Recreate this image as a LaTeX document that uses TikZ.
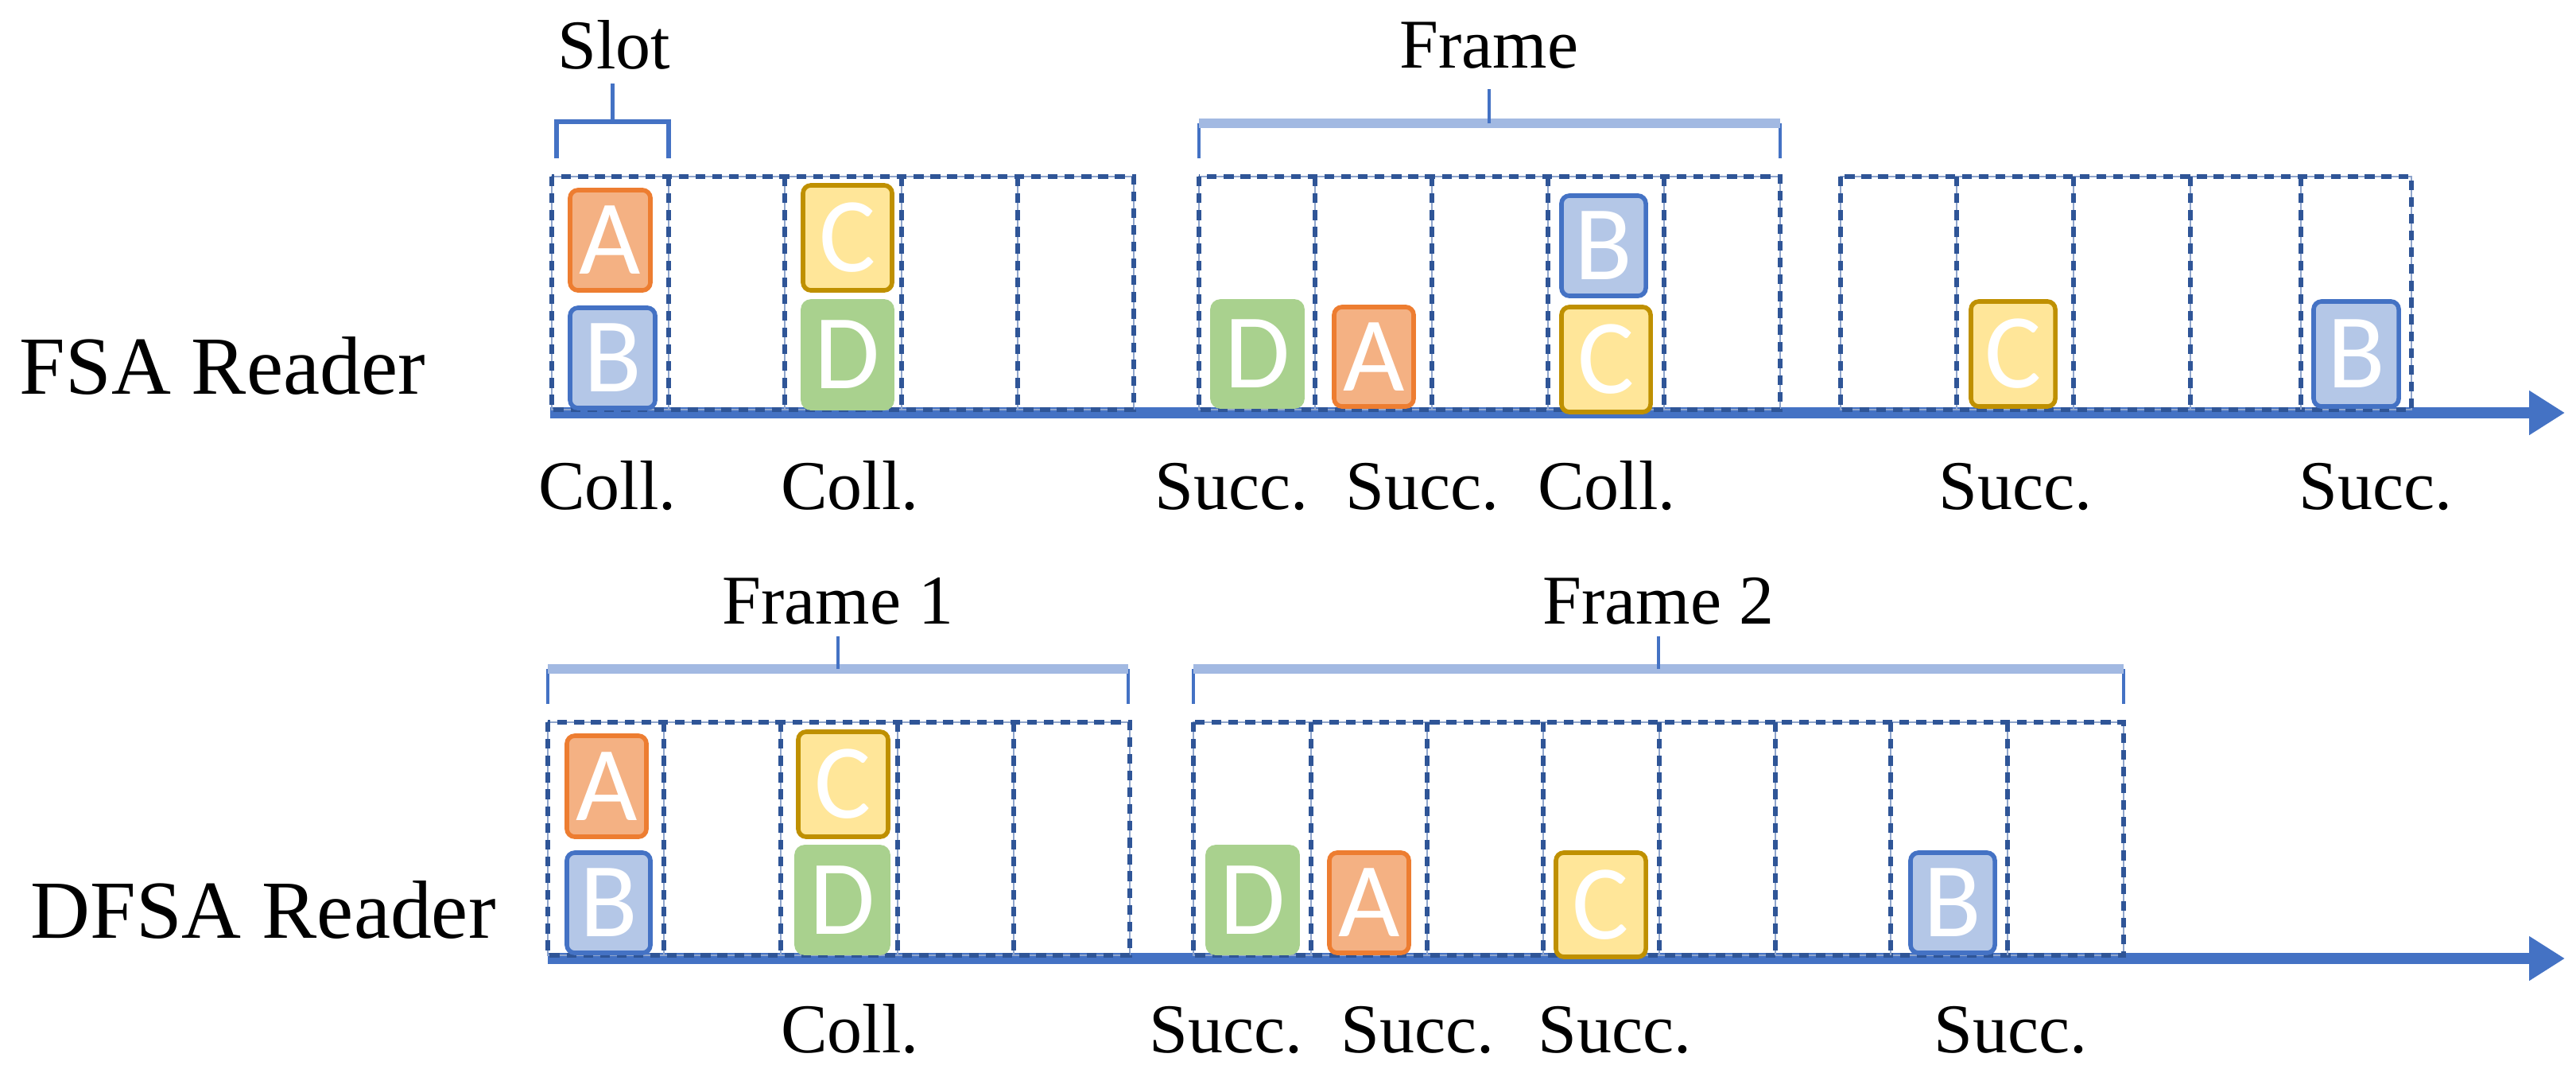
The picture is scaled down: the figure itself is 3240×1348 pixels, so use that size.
\documentclass[tikz,border=0pt]{standalone}
\usepackage{fontspec}
\usepackage{graphicx}
\setmainfont{Liberation Serif}
\newfontfamily\tokfont{Carlito}
\usetikzlibrary{arrows.meta}
\definecolor{axisblue}{HTML}{4472C4}
\definecolor{dashblue}{HTML}{2F5597}
\definecolor{gapblue}{HTML}{8FA5CC}
\definecolor{bracelight}{HTML}{A2B9E2}
\definecolor{aFill}{HTML}{F4B183}
\definecolor{aLine}{HTML}{ED7D31}
\definecolor{bFill}{HTML}{B4C7E7}
\definecolor{bLine}{HTML}{4472C4}
\definecolor{cFill}{HTML}{FFE699}
\definecolor{cLine}{HTML}{BF9000}
\definecolor{dFill}{HTML}{A9D18E}
\begin{document}
\begin{tikzpicture}[x=0.01cm,y=-0.01cm,
  tok/.style={rounded corners=0.1cm, line width=1.6pt, inner sep=0pt,
    font=\tokfont\fontsize{38}{38}\selectfont, text=white},
  tokA/.style={tok, fill=aFill, draw=aLine},
  tokB/.style={tok, fill=bFill, draw=bLine},
  tokC/.style={tok, fill=cFill, draw=cLine},
  tokD/.style={tok, fill=dFill, draw=dFill},
  lbl/.style={font=\fontsize{25}{25}\selectfont, anchor=base, inner sep=0pt},
  reader/.style={font=\fontsize{29.5}{30}\selectfont, anchor=base west, inner sep=0pt},
  slotline/.style={dashblue, line width=1.6pt, dash pattern=on 3.5pt off 2.5pt,
    preaction={draw=gapblue, solid}},
  axisline/.style={axisblue, line width=4pt, -{Triangle[length=0.45cm,width=0.53cm]}},
  braceend/.style={axisblue, line width=1pt},
  bracebar/.style={bracelight, line width=3.3pt},
  bracetip/.style={axisblue, line width=1.3pt},
  slotbrace/.style={axisblue, line width=1.5pt}
]
\useasboundingbox (0,0) rectangle (3240,1348);

% ---------------- reader labels
\node[reader] (fsa) at (24,495) {FSA Reader};
\node[reader] (dfsa) at (38,1179) {DFSA Reader};

% ---------------- axes
\coordinate (ax1s) at (692,519);
\coordinate (ax1e) at (3226,519);
\coordinate (ax2s) at (689,1205);
\coordinate (ax2e) at (3226,1205);
\draw[axisline] (ax1s) -- (ax1e);
\draw[axisline] (ax2s) -- (ax2e);

% ---------------- top row slots
\draw[slotline] (694,222) rectangle (1426,515);
\foreach \x in {841,987,1134,1280} \draw[slotline] (\x,222) -- (\x,515);
\draw[slotline] (1508,222) rectangle (2239,515);
\foreach \x in {1654,1801,1947,2093} \draw[slotline] (\x,222) -- (\x,515);
\draw[slotline] (2315,222) rectangle (3033,515);
\foreach \x in {2461,2608,2755,2894} \draw[slotline] (\x,222) -- (\x,515);

% ---------------- bottom row slots
\draw[slotline] (689,908) rectangle (1421,1201);
\foreach \x in {835,982,1129,1275} \draw[slotline] (\x,908) -- (\x,1201);
\draw[slotline] (1501,908) rectangle (2671,1201);
\foreach \x in {1649,1795,1941,2087,2233,2378,2525} \draw[slotline] (\x,908) -- (\x,1201);

% ---------------- braces top row
\draw[slotbrace] (700,199) -- (700,153) -- (841,153) -- (841,199);
\draw[slotbrace] (770.5,153) -- (770.5,105);
\node[lbl] (slot) at (772,86) {Slot};

\draw[braceend] (1508,199) -- (1508,155);
\draw[braceend] (2239,199) -- (2239,155);
\draw[bracebar] (1508,155) -- (2239,155);
\draw[bracetip] (1873,155) -- (1873,112);
\node[lbl] (frame) at (1873,85) {Frame};

% ---------------- braces bottom row
\draw[braceend] (689,885) -- (689,841);
\draw[braceend] (1419,885) -- (1419,841);
\draw[bracebar] (689,841) -- (1419,841);
\draw[bracetip] (1054,841) -- (1054,800);
\node[lbl] (frame1) at (1054,784) {Frame 1};

\draw[braceend] (1501,885) -- (1501,841);
\draw[braceend] (2671,885) -- (2671,841);
\draw[bracebar] (1501,841) -- (2671,841);
\draw[bracetip] (2086,841) -- (2086,800);
\node[lbl] (frame2) at (2086,784) {Frame 2};

% ---------------- tokens top row
\node[tokA, minimum width=1.01cm, minimum height=1.26cm] (tA1) at (767.5,302) {A};
\node[tokB, minimum width=1.07cm, minimum height=1.26cm] (tB1) at (770.5,450) {B};
\node[tokC, minimum width=1.12cm, minimum height=1.32cm] (tC1) at (1066,299) {C};
\node[tokD, minimum width=1.12cm, minimum height=1.34cm] (tD1) at (1066,446) {D};
\node[tokD, minimum width=1.13cm, minimum height=1.32cm] (tD2) at (1581.5,445) {D};
\node[tokA, minimum width=1.00cm, minimum height=1.25cm] (tA2) at (1728,448.5) {A};
\node[tokB, minimum width=1.06cm, minimum height=1.26cm] (tB2) at (2017,309) {B};
\node[tokC, minimum width=1.12cm, minimum height=1.32cm] (tC2) at (2020,452) {C};
\node[tokC, minimum width=1.06cm, minimum height=1.32cm] (tC3) at (2532,445) {C};
\node[tokB, minimum width=1.07cm, minimum height=1.32cm] (tB3) at (2963.5,445) {B};

% ---------------- tokens bottom row
\node[tokA, minimum width=1.00cm, minimum height=1.27cm] (bA1) at (763,988.5) {A};
\node[tokB, minimum width=1.05cm, minimum height=1.26cm] (bB1) at (765.5,1135) {B};
\node[tokC, minimum width=1.13cm, minimum height=1.32cm] (bC1) at (1060.5,986) {C};
\node[tokD, minimum width=1.15cm, minimum height=1.33cm] (bD1) at (1059.5,1131.5) {D};
\node[tokD, minimum width=1.13cm, minimum height=1.33cm] (bD2) at (1575.5,1131.5) {D};
\node[tokA, minimum width=1.00cm, minimum height=1.26cm] (bA2) at (1722,1135) {A};
\node[tokC, minimum width=1.13cm, minimum height=1.31cm] (bC2) at (2013.5,1137.5) {C};
\node[tokB, minimum width=1.06cm, minimum height=1.26cm] (bB2) at (2456,1135) {B};

% ---------------- outcome labels top row
\node[lbl] (l1) at (764,640) {Coll.};
\node[lbl] (l2) at (1069,640) {Coll.};
\node[lbl] (l3) at (1549,640) {Succ.};
\node[lbl] (l4) at (1789,640) {Succ.};
\node[lbl] (l5) at (2021,640) {Coll.};
\node[lbl] (l6) at (2535,640) {Succ.};
\node[lbl] (l7) at (2988,640) {Succ.};

% ---------------- outcome labels bottom row
\node[lbl] (m1) at (1069,1323) {Coll.};
\node[lbl] (m2) at (1542,1323) {Succ.};
\node[lbl] (m3) at (1783,1323) {Succ.};
\node[lbl] (m4) at (2031,1323) {Succ.};
\node[lbl] (m5) at (2529,1323) {Succ.};
\end{tikzpicture}
\end{document}
